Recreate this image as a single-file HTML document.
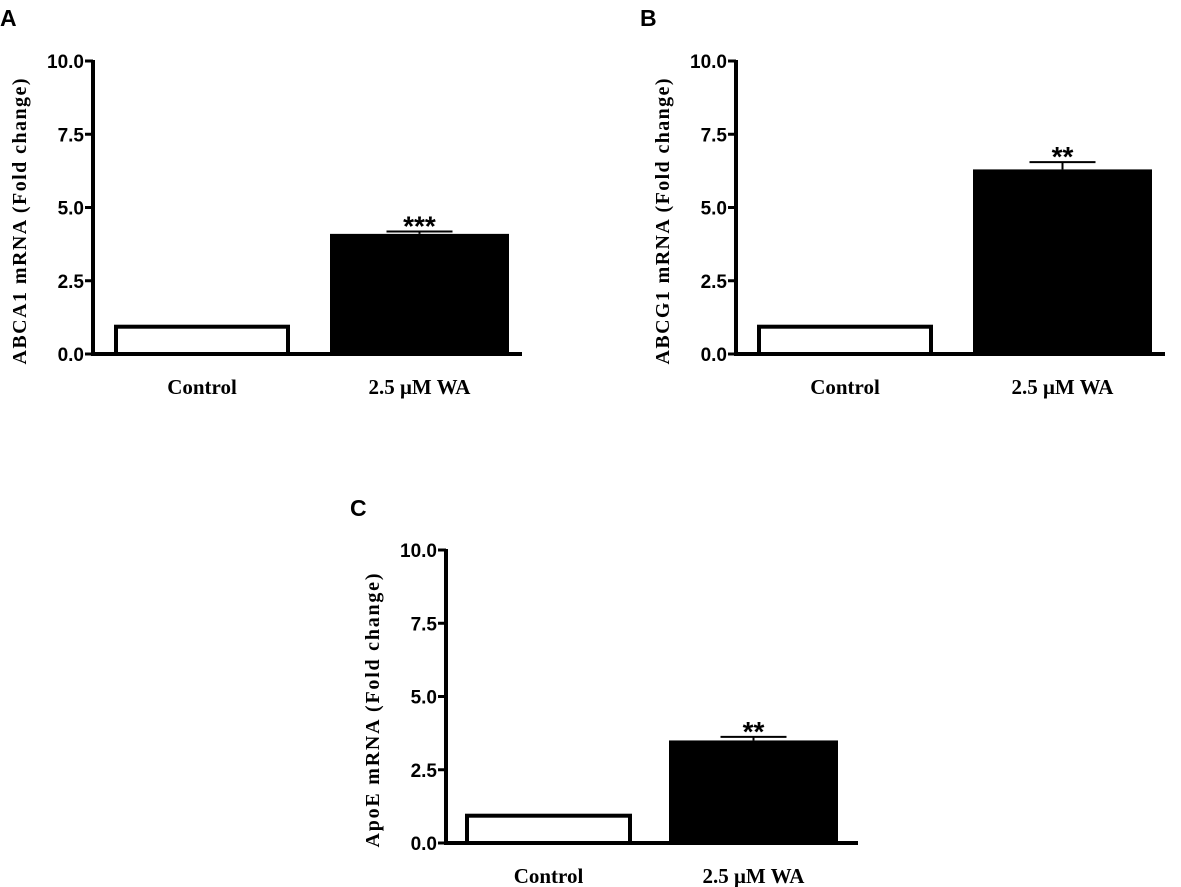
<!DOCTYPE html>
<html><head><meta charset="utf-8"><style>
body{margin:0;background:#fff;}
svg{display:block}
.tick{font-family:"Liberation Sans",sans-serif;font-weight:bold;font-size:19px}
.ttl{font-family:"Liberation Serif",serif;font-weight:bold;font-size:20px}
.cat{font-family:"Liberation Serif",serif;font-weight:bold;font-size:21px}
.pl{font-family:"Liberation Sans",sans-serif;font-weight:bold;font-size:23px}
</style></head><body>
<svg id="chart" width="1181" height="887"></svg>
<script>
const categories=["Control","2.5 μM WA"];
const valuesA=[1.0,4.1];
const errorsA=[0,0.08];
const valuesB=[1.0,6.3];
const errorsB=[0,0.25];
const valuesC=[1.0,3.5];
const errorsC=[0,0.12];
const sigLabels=["***","**","**"];
const tickValues=[0,2.5,5,7.5,10];
const tickLabels=["0.0","2.5","5.0","7.5","10.0"];
const panelLetters=["A","B","C"];
const yTitles=["ABCA1 mRNA (Fold change)","ABCG1 mRNA (Fold change)","ApoE mRNA (Fold change)"];
const NS="http://www.w3.org/2000/svg";
const svg=document.getElementById('chart');
function mk(tag,attrs,parent){const e=document.createElementNS(NS,tag);for(const k in attrs)e.setAttribute(k,attrs[k]);(parent||svg).appendChild(e);return e;}
const panels=[
 {ox:93,top:61,bot:354,end:522,bars:[[114,290],[330,509]],vals:valuesA,errs:errorsA,lx:14,ly:18,tl:286},
 {ox:736,top:61,bot:354,end:1165,bars:[[757,933],[973,1152]],vals:valuesB,errs:errorsB,lx:654,ly:18,tl:286},
 {ox:446,top:550,bot:843,end:858,bars:[[465,632],[669,838]],vals:valuesC,errs:errorsC,lx:364,ly:508,tl:274}
];
panels.forEach((p,i)=>{
 const g=mk('g',{});
 
 
 const y=v=>p.bot-(v/10)*(p.bot-p.top);
 const L=mk('text',{x:p.lx-14,y:p.ly+8,class:'pl'},g);L.textContent=panelLetters[i];
 
 
 const ax=mk('line',{x1:p.ox,y1:p.top-1,x2:p.ox,y2:p.bot+2,stroke:'#000','stroke-width':4},g);
 
 
 const xa=mk('line',{x1:p.ox-2,y1:p.bot,x2:p.end,y2:p.bot,stroke:'#000','stroke-width':4},g);
 
 
 tickValues.forEach((t,j)=>{
  mk('line',{x1:p.ox-8,y1:y(t),x2:p.ox,y2:y(t),stroke:'#000','stroke-width':3},g);
  const tl=mk('text',{x:p.ox-9,y:y(t)+7,class:'tick','text-anchor':'end'},g);tl.textContent=tickLabels[j];
  
  
 });
 const cy=(p.top+p.bot)/2+14;
 const yt=mk('text',{x:0,y:0,class:'ttl','text-anchor':'middle',textLength:p.tl,lengthAdjust:'spacing',transform:`translate(${p.ox-67},${cy}) rotate(-90)`},g);
 yt.textContent=yTitles[i];
 
 
 categories.forEach((c,k)=>{
  const [x0,x1]=p.bars[k];const v=p.vals[k];
  const r=mk('rect',{x:x0+2,y:y(v)+2,width:x1-x0-4,height:p.bot-y(v)-2,fill:k?'#000':'#fff',stroke:'#000','stroke-width':4},g);
  
  
  if(p.errs[k]>0){
   const mx=(x0+x1)/2;
   const cap=y(v+p.errs[k]);
   const e=mk('line',{x1:mx-33,y1:cap,x2:mx+33,y2:cap,stroke:'#000','stroke-width':2},g);
   
   
   mk('line',{x1:mx,y1:cap,x2:mx,y2:y(v),stroke:'#000','stroke-width':2},g);
   const s=mk('text',{x:mx,y:cap+4,'text-anchor':'middle','font-family':'Liberation Sans, sans-serif','font-size':28,'font-weight':'bold'},g);
   s.textContent=sigLabels[i];
   
   
  }
  const cl=mk('text',{x:(x0+x1)/2,y:p.bot+40,class:'cat','text-anchor':'middle'},g);cl.textContent=c;
  
  
 });
});
</script>
</body></html>
